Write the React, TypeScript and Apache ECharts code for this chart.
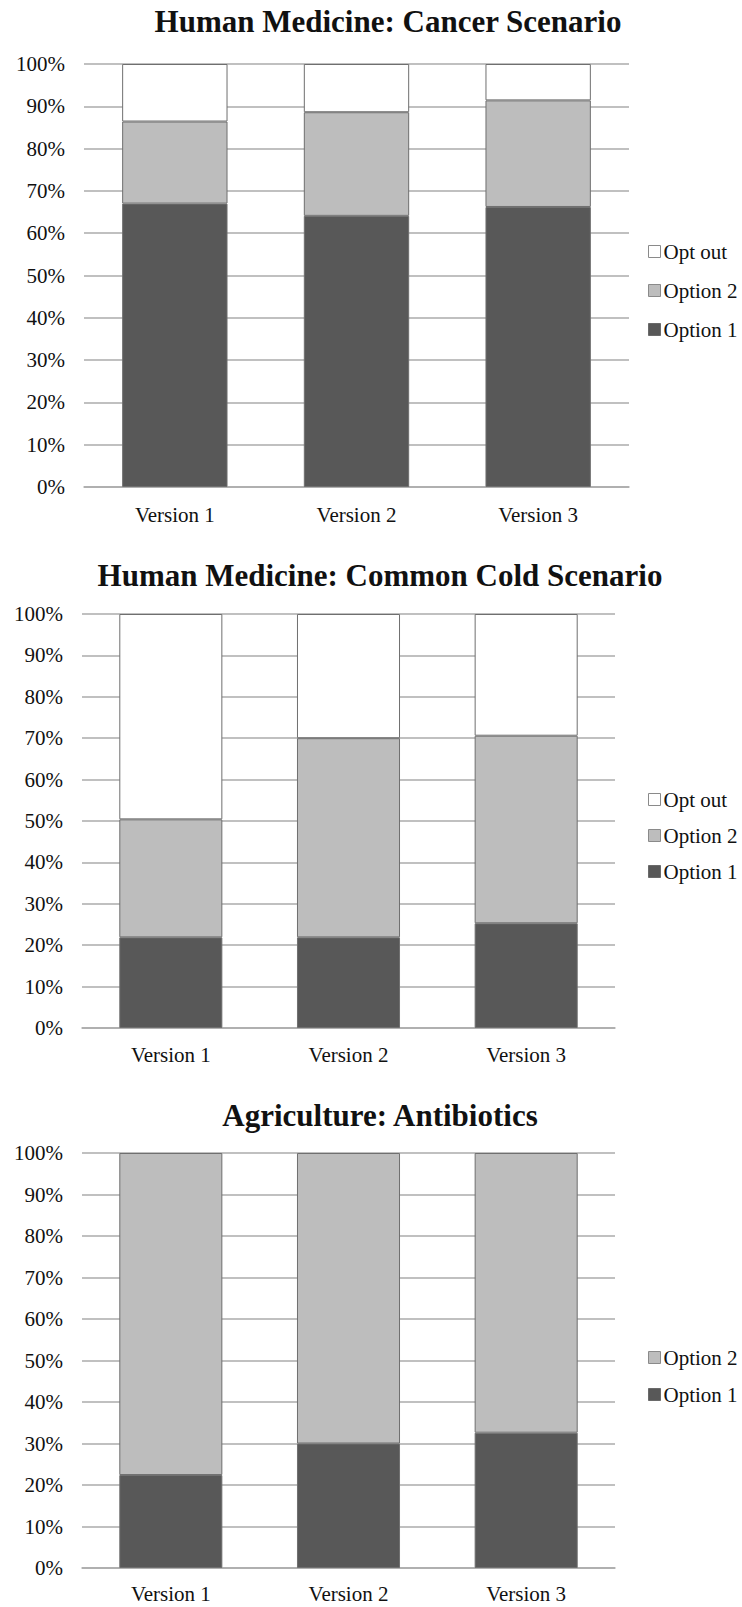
import React, { useEffect, useRef } from "react";
import * as echarts from "echarts";

const categories = ["Version 1", "Version 2", "Version 3"];
const yTicks = [0, 10, 20, 30, 40, 50, 60, 70, 80, 90, 100];

const titles = [
  "Human Medicine: Cancer Scenario",
  "Human Medicine: Common Cold Scenario",
  "Agriculture: Antibiotics",
];

const cancerOption1 = [67.0, 64.1, 66.2];
const cancerOption2 = [19.4, 24.5, 25.2];
const cancerOptOut = [13.6, 11.4, 8.6];

const coldOption1 = [21.9, 21.9, 25.3];
const coldOption2 = [28.5, 48.1, 45.3];
const coldOptOut = [49.6, 30.0, 29.4];

const agriOption1 = [22.4, 30.0, 32.6];
const agriOption2 = [77.6, 70.0, 67.4];

const FONT = "Liberation Serif";
const C_OPT1 = "#585858";
const C_OPT2 = "#bdbdbd";
const C_OUT = "#ffffff";
const C_GRID = "#ababab";

export default function App() {
  const ref = useRef<HTMLDivElement>(null);

  useEffect(() => {
    document.body.style.margin = "0";
    if (!ref.current) return;
    const chart = echarts.init(ref.current, null, { renderer: "svg" });

    const grids = [
      { left: 84, top: 64, width: 545, height: 423 },
      { left: 82, top: 614, width: 533, height: 414 },
      { left: 82, top: 1153, width: 533, height: 415 },
    ];
    const titleCenters = [
      { x: 388, y: 23 },
      { x: 380, y: 577 },
      { x: 380, y: 1117 },
    ];
    const legendTops = [241, 789, 1347];
    const legendGaps = [18, 15, 16];
    const xLabelMargins = [17, 16, 15];

    const seriesSets = [
      [
        { name: "Option 1", data: cancerOption1, color: C_OPT1 },
        { name: "Option 2", data: cancerOption2, color: C_OPT2 },
        { name: "Opt out", data: cancerOptOut, color: C_OUT },
      ],
      [
        { name: "Option 1", data: coldOption1, color: C_OPT1 },
        { name: "Option 2", data: coldOption2, color: C_OPT2 },
        { name: "Opt out", data: coldOptOut, color: C_OUT },
      ],
      [
        { name: "Option 1", data: agriOption1, color: C_OPT1 },
        { name: "Option 2", data: agriOption2, color: C_OPT2 },
      ],
    ];

    const series: any[] = [];
    seriesSets.forEach((set, gi) => {
      set.forEach((s) => {
        series.push({
          type: "bar",
          name: s.name,
          xAxisIndex: gi,
          yAxisIndex: gi,
          stack: "total" + gi,
          data: s.data,
          barCategoryGap: "42%",
          itemStyle: {
            color: s.color,
            borderColor: "#6f6f6f",
            borderWidth: 1,
          },
        });
      });
    });

    const legendIcon = (name: string) => {
      if (name === "Opt out") return { color: C_OUT, borderColor: "#8a8a8a", borderWidth: 1 };
      if (name === "Option 2") return { color: C_OPT2, borderColor: "#8a8a8a", borderWidth: 1 };
      return { color: C_OPT1, borderColor: "#6a6a6a", borderWidth: 1 };
    };

    const option: any = {
      animation: false,
      backgroundColor: "#ffffff",
      title: titles.map((t, i) => ({
        text: t,
        left: titleCenters[i].x,
        top: titleCenters[i].y - 17,
        textAlign: "center",
        padding: 0,
        textStyle: {
          fontFamily: FONT,
          fontWeight: "bold",
          fontSize: 31,
          color: "#111111",
        },
      })),
      legend: seriesSets.map((set, i) => ({
        orient: "vertical",
        left: 648,
        top: legendTops[i],
        itemGap: legendGaps[i],
        itemWidth: 12,
        itemHeight: 12,
        icon: "rect",
        selectedMode: false,
        padding: 0,
        data: set
          .slice()
          .reverse()
          .map((s) => ({ name: s.name, itemStyle: legendIcon(s.name) })),
        textStyle: {
          fontFamily: FONT,
          fontSize: 21,
          color: "#111111",
          padding: [0, 0, 0, -2],
        },
      })),
      grid: grids.map((g) => ({ ...g, containLabel: false })),
      xAxis: grids.map((_, i) => ({
        type: "category",
        gridIndex: i,
        data: categories,
        axisTick: { show: false },
        axisLine: { show: true, lineStyle: { color: C_GRID, width: 1.5 } },
        axisLabel: {
          margin: xLabelMargins[i],
          fontFamily: FONT,
          fontSize: 21,
          color: "#111111",
        },
      })),
      yAxis: grids.map((_, i) => ({
        type: "value",
        gridIndex: i,
        min: yTicks[0],
        max: yTicks[yTicks.length - 1],
        interval: 10,
        axisLine: { show: false },
        axisTick: { show: false },
        splitLine: { show: true, lineStyle: { color: C_GRID, width: 1.5 } },
        axisLabel: {
          margin: 19,
          fontFamily: FONT,
          fontSize: 21,
          color: "#111111",
          formatter: "{value}%",
        },
      })),
      series,
    };

    chart.setOption(option);
    return () => chart.dispose();
  }, []);

  return <div ref={ref} style={{ width: 742, height: 1607 }} />;
}
